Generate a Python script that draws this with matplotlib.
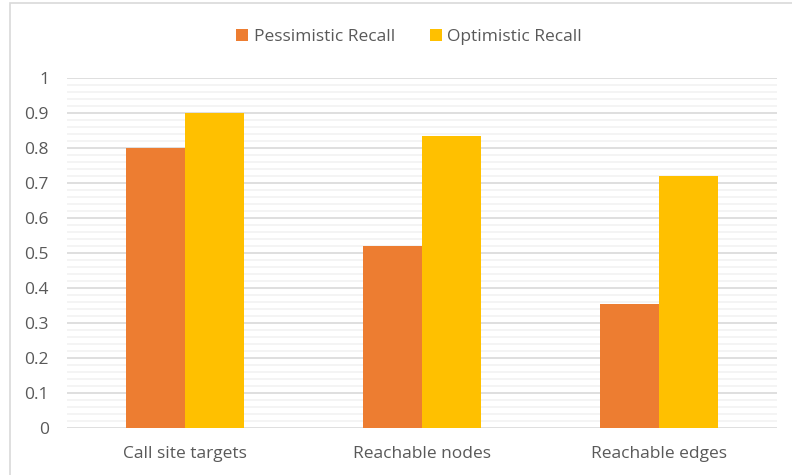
import matplotlib.pyplot as plt
import numpy as np
from matplotlib.patches import Rectangle

categories = ["Call site targets", "Reachable nodes", "Reachable edges"]
pessimistic = [0.80, 0.52, 0.355]
optimistic = [0.90, 0.834, 0.72]

ORANGE = "#ED7D31"
YELLOW = "#FFC000"
TXT = "#595959"

plt.rcParams["font.family"] = ["Open Sans", "DejaVu Sans"]

fig = plt.figure(figsize=(7.92, 4.75), dpi=100)
ax = fig.add_axes([67 / 792, 1 - 428 / 475, 710 / 792, 350 / 475])

# chart border (only top/left visible in the reference)
fig.patches.append(Rectangle((10 / 792, -0.05), 1.1, 1 - 3 / 475 + 0.05,
                             transform=fig.transFigure, fill=False,
                             edgecolor="#d9d9d9", linewidth=1.2))

x = np.arange(len(categories))
w = 0.25
ax.bar(x - w / 2, pessimistic, w, color=ORANGE, label="Pessimistic Recall", zorder=3)
ax.bar(x + w / 2, optimistic, w, color=YELLOW, label="Optimistic Recall", zorder=3)

ax.set_xlim(-0.5, len(categories) - 0.5)
ax.set_ylim(0, 1)
ax.set_yticks(np.arange(0, 1.01, 0.1))
ax.set_yticklabels(["0"] + [f"{v:.1f}" for v in np.arange(0.1, 0.95, 0.1)] + ["1"])
ax.set_yticks(np.arange(0, 1.001, 0.02), minor=True)
ax.grid(axis="y", which="major", color="#d9d9d9", linewidth=1.2, zorder=0)
ax.grid(axis="y", which="minor", color="#f2f2f2", linewidth=1.2, zorder=0)
ax.set_xticks(x)
ax.set_xticklabels(categories)
ax.tick_params(axis="both", which="both", length=0, colors=TXT, labelsize=12.5)
ax.tick_params(axis="y", pad=13)
ax.tick_params(axis="x", pad=13)
for s in ax.spines.values():
    s.set_visible(False)

fig.legend(loc="center", bbox_to_anchor=(409 / 792, 1 - 37 / 475), ncol=2, frameon=False,
           fontsize=12.5, labelcolor=TXT, handlelength=0.7, handleheight=0.7,
           handletextpad=0.3, columnspacing=2.0)

fig.savefig("out.png", dpi=100)
